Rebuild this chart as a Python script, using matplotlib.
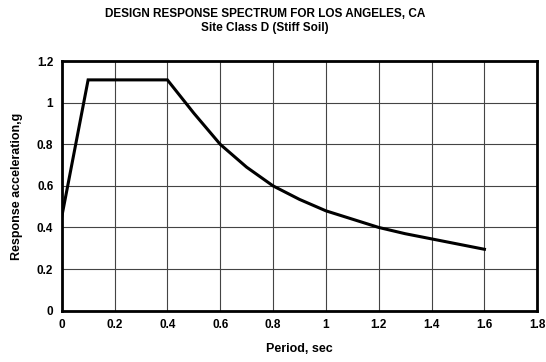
import matplotlib.pyplot as plt

# Data
period = [0.0, 0.1, 0.4, 0.5, 0.6, 0.7, 0.8, 0.9, 1.0, 1.1, 1.2, 1.3, 1.4, 1.5, 1.6]
accel = [0.45, 1.11, 1.11, 0.95, 0.80, 0.69, 0.60, 0.535, 0.48, 0.44, 0.40, 0.37, 0.345, 0.32, 0.295]

xticks = [0, 0.2, 0.4, 0.6, 0.8, 1, 1.2, 1.4, 1.6, 1.8]
yticks = [0, 0.2, 0.4, 0.6, 0.8, 1, 1.2]

plt.rcParams['font.family'] = ['Liberation Sans', 'DejaVu Sans']

fig = plt.figure(figsize=(5.46, 3.62), dpi=100)
ax = fig.add_axes([0.113, 0.142, 0.871, 0.689])

ax.plot(period, accel, color='black', linewidth=2.2, solid_joinstyle='miter')

ax.set_xlim(0, 1.8)
ax.set_ylim(0, 1.2)
ax.set_xticks(xticks)
ax.set_yticks(yticks)
ax.set_xticklabels([f"{t:g}" for t in xticks], fontweight='bold', fontsize=8.5)
ax.set_yticklabels([f"{t:g}" for t in yticks], fontweight='bold', fontsize=8.5)
ax.tick_params(length=0, pad=6)
ax.grid(True, color='#444444', linewidth=0.8)

for s in ax.spines.values():
    s.set_linewidth(2)

ax.set_xlabel("Period, sec", fontweight='bold', fontsize=9, labelpad=9)
ax.set_ylabel("Response acceleration,g", fontweight='bold', fontsize=9, labelpad=10)

fig.text(0.485, 0.962, "DESIGN RESPONSE SPECTRUM FOR LOS ANGELES, CA",
         ha='center', va='center', fontweight='bold', fontsize=8.5)
fig.text(0.485, 0.922, "Site Class D (Stiff Soil)",
         ha='center', va='center', fontweight='bold', fontsize=8.5)

fig.savefig("out.png", dpi=100)
